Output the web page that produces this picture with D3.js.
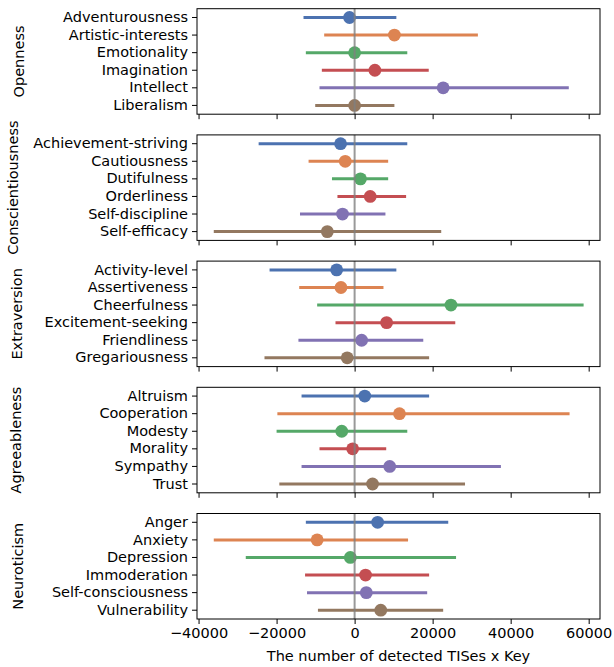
<!DOCTYPE html>
<html>
<head>
<meta charset="utf-8">
<script src="https://cdn.jsdelivr.net/npm/d3@7"></script>
<style>
body { margin: 0; background: #fff; }
text { font-family: "DejaVu Sans", sans-serif; }
</style>
</head>
<body>
<svg id="chart" width="614" height="667"></svg>
<script>
var traits = ["Openness", "Conscientiousness", "Extraversion", "Agreeableness", "Neuroticism"];
var facets = [
    ["Adventurousness", "Artistic-interests", "Emotionality", "Imagination", "Intellect", "Liberalism"],
    ["Achievement-striving", "Cautiousness", "Dutifulness", "Orderliness", "Self-discipline", "Self-efficacy"],
    ["Activity-level", "Assertiveness", "Cheerfulness", "Excitement-seeking", "Friendliness", "Gregariousness"],
    ["Altruism", "Cooperation", "Modesty", "Morality", "Sympathy", "Trust"],
    ["Anger", "Anxiety", "Depression", "Immoderation", "Self-consciousness", "Vulnerability"]
];
var means = [
    [-1300, 10200, 0, 5200, 22700, 0],
    [-3600, -2400, 1500, 4000, -3100, -7000],
    [-4600, -3500, 24700, 8200, 1800, -1900],
    [2600, 11500, -3300, -500, 9000, 4600],
    [5900, -9600, -1100, 2800, 3000, 6700]
];
var lows = [
    [-13100, -7800, -12500, -8400, -9000, -10100],
    [-24600, -11800, -5800, -4400, -14000, -36100],
    [-21800, -14200, -9600, -4900, -14400, -23100],
    [-13600, -19800, -20000, -9000, -13600, -19300],
    [-12500, -36100, -27900, -12700, -12200, -9400]
];
var highs = [
    [10700, 31600, 13500, 19000, 54900, 10200],
    [13500, 8600, 8600, 13200, 7900, 22200],
    [10700, 7400, 58700, 25800, 17600, 19100],
    [19100, 55100, 13500, 8100, 37500, 28300],
    [24000, 13700, 26000, 19100, 18600, 22700]
];
var xTicks = [-40000, -20000, 0, 20000, 40000, 60000];
var palette = ["#4c72b0", "#dd8452", "#55a868", "#c44e52", "#8172b3", "#937860"];

var svg = d3.select("#chart");
var left = 197, right = 600, top0 = 8.7, panelH = 105.5, step = 126.2;
// baseline x of each rotated trait label
var labelX = [24, 18, 22, 21, 23];

var x = d3.scaleLinear().domain([-40400, 62900]).range([left, right]);

function drawPanel(i) {
    var g = svg.append("g").attr("transform", "translate(0," + (top0 + i * step) + ")");
    var y = d3.scaleBand().domain(facets[i]).range([0, panelH]);
    var rows = facets[i].map(function(f, j) {
        return { name: f, m: means[i][j], lo: lows[i][j], hi: highs[i][j], c: palette[j] };
    });

    g.selectAll(".bar").data(rows).enter().append("line")
        .attr("x1", function(d) { return x(d.lo); })
        .attr("x2", function(d) { return x(d.hi); })
        .attr("y1", function(d) { return y(d.name) + y.bandwidth() / 2; })
        .attr("y2", function(d) { return y(d.name) + y.bandwidth() / 2; })
        .attr("stroke", function(d) { return d.c; })
        .attr("stroke-width", 3);

    g.selectAll(".dot").data(rows).enter().append("circle")
        .attr("cx", function(d) { return x(d.m); })
        .attr("cy", function(d) { return y(d.name) + y.bandwidth() / 2; })
        .attr("r", 6.4)
        .attr("fill", function(d) { return d.c; });

    // zero line on top
    g.append("line")
        .attr("x1", x(0)).attr("x2", x(0))
        .attr("y1", 0).attr("y2", panelH)
        .attr("stroke", "gray").attr("stroke-opacity", 0.8).attr("stroke-width", 2);

    g.append("rect")
        .attr("x", left).attr("y", 0)
        .attr("width", right - left).attr("height", panelH)
        .attr("fill", "none").attr("stroke", "#000").attr("stroke-width", 1);

    var yAxis = d3.axisLeft(y).tickSize(5).tickPadding(4);
    var ya = g.append("g").attr("transform", "translate(" + left + ",0)").call(yAxis);
    ya.select(".domain").remove();
    ya.selectAll("text").attr("font-size", "14.5px").attr("fill", "#000");

    var xAxis = d3.axisBottom(x).tickValues(xTicks).tickSize(5).tickPadding(4)
        .tickFormat(function(d) { return d3.format("d")(d).replace("-", "\u2212"); });
    var xa = g.append("g").attr("transform", "translate(0," + panelH + ")").call(xAxis);
    xa.select(".domain").remove();
    xa.selectAll("text").attr("font-size", "14.5px").attr("fill", "#000");
    if (i < traits.length - 1) {
        xa.selectAll("text").remove();
    }

    g.append("text")
        .attr("transform", "translate(" + labelX[i] + "," + (panelH / 2) + ") rotate(-90)")
        .attr("text-anchor", "middle")
        .attr("font-size", "14.5px")
        .text(traits[i]);
}

for (var i = 0; i < traits.length; i++) {
    drawPanel(i);
}

svg.append("text")
    .attr("x", (left + right) / 2)
    .attr("y", 661)
    .attr("text-anchor", "middle")
    .attr("font-size", "14.5px")
    .text("The number of detected TISes x Key");
</script>
</body>
</html>
